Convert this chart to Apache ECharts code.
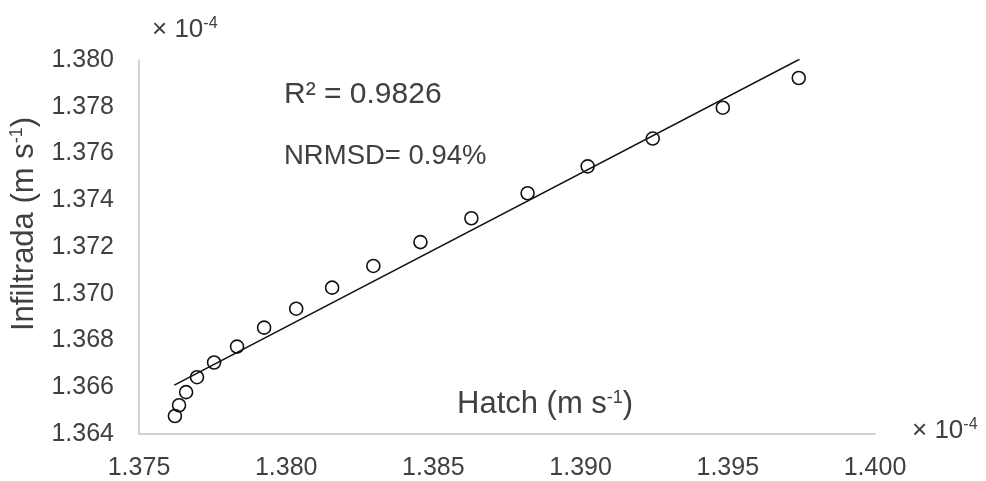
<!DOCTYPE html>
<html>
<head>
<meta charset="utf-8">
<script src="https://cdn.jsdelivr.net/npm/echarts@6/dist/echarts.min.js"></script>
<style>
  html, body { margin: 0; padding: 0; background: #fff; }
  #main { width: 986px; height: 481px; }
</style>
</head>
<body>
<div id="main"></div>
<script>
// Hatch (x) vs Infiltrada (y), values in units of 10^-4 m/s
var hatchX = [1.37622, 1.37636, 1.37660, 1.37697, 1.37755, 1.37833, 1.37925, 1.38034, 1.38156,
  1.38296, 1.38456, 1.38629, 1.38820, 1.39024, 1.39245, 1.39483, 1.39741];
var infiltY = [1.36477, 1.36523, 1.36579, 1.36643, 1.36706, 1.36774, 1.36855, 1.36936, 1.37026,
  1.37119, 1.37221, 1.37323, 1.37430, 1.37545, 1.37664, 1.37796, 1.37923];

// linear trend line end points
var trendX = [1.37620, 1.39745];
var trendY = [1.36609, 1.38004];

var xTicks = { min: 1.375, max: 1.400, step: 0.005 };
var yTicks = { min: 1.364, max: 1.380, step: 0.002 };

var font = "'Liberation Sans', Arial, sans-serif";
var txtColor = '#404040';

var points = [];
for (var i = 0; i < hatchX.length; i++) {
  points.push([hatchX[i], infiltY[i]]);
}
var trend = [];
for (var j = 0; j < trendX.length; j++) {
  trend.push([trendX[j], trendY[j]]);
}

function supText(main, sup, size, supSize, lift) {
  return {
    text: '{a|' + main + '}{s|' + sup + '}',
    rich: {
      a: { fontSize: size, fontFamily: font, fill: txtColor },
      s: { fontSize: supSize, fontFamily: font, fill: txtColor, verticalAlign: 'top', padding: [0, 0, lift, 0] }
    }
  };
}

var chart = echarts.init(document.getElementById('main'));

var hatchLabel = supText('Hatch (m s', '-1', 31, 18, 12);
hatchLabel.text += '{a|)}';
var infLabel = supText('Infiltrada (m s', '-1', 31, 18, 12);
infLabel.text += '{a|)}';
infLabel.align = 'center';
infLabel.verticalAlign = 'middle';

var option = {
  backgroundColor: '#fff',
  animation: false,
  grid: { left: 139, right: 111, top: 60, bottom: 45 },
  xAxis: {
    type: 'value',
    min: xTicks.min, max: xTicks.max, interval: xTicks.step,
    axisLine: { show: true, lineStyle: { color: '#c4c4c4', width: 1.5 } },
    axisTick: { show: false },
    splitLine: { show: false },
    axisLabel: {
      margin: 22, fontSize: 25, fontFamily: font, color: txtColor,
      formatter: function (v) { return v.toFixed(3); }
    }
  },
  yAxis: {
    type: 'value',
    min: yTicks.min, max: yTicks.max, interval: yTicks.step,
    axisLine: { show: true, lineStyle: { color: '#c4c4c4', width: 1.5 } },
    axisTick: { show: false },
    splitLine: { show: false },
    axisLabel: {
      margin: 25, fontSize: 25, fontFamily: font, color: txtColor,
      formatter: function (v) { return v.toFixed(3); }
    }
  },
  series: [{
    type: 'scatter',
    data: points,
    symbol: 'circle',
    symbolSize: 13,
    itemStyle: { color: 'rgba(0,0,0,0)', borderColor: '#111', borderWidth: 1.6, opacity: 1 },
    z: 2
  }, {
    type: 'line',
    data: trend,
    showSymbol: false,
    symbol: 'none',
    lineStyle: { color: '#111', width: 1.6 },
    z: 3
  }],
  graphic: [{
    type: 'text', left: 152, top: 16,
    style: supText('× 10', '-4', 26, 16, 11)
  }, {
    type: 'text', left: 912, top: 417,
    style: supText('× 10', '-4', 26, 16, 11)
  }, {
    type: 'text', left: 284, top: 80,
    style: { text: 'R² = 0.9826', font: '30px ' + font, fill: txtColor }
  }, {
    type: 'text', left: 284, top: 142,
    style: { text: 'NRMSD= 0.94%', font: '27.5px ' + font, fill: txtColor }
  }, {
    type: 'text', left: 457, top: 389,
    style: hatchLabel
  }, {
    type: 'text', x: 24, y: 224, rotation: Math.PI / 2,
    style: infLabel
  }]
};

chart.setOption(option);
</script>
</body>
</html>
